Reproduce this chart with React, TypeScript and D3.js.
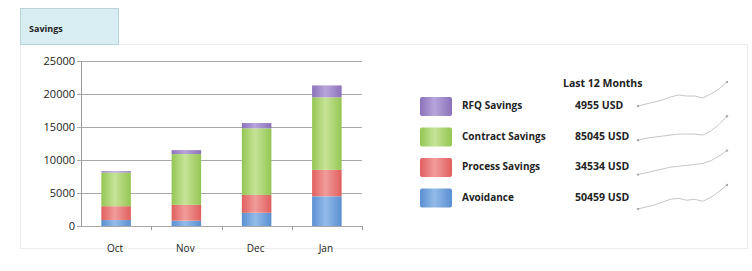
import React, { useEffect, useRef } from 'react';
import * as d3 from 'd3';

// chart data
const months = ['Oct', 'Nov', 'Dec', 'Jan'];
const avoidance = [900, 800, 2000, 4500];
const processSavings = [2100, 2400, 2700, 4000];
const contractSavings = [5100, 7700, 10100, 11000];
const rfqSavings = [200, 600, 800, 1800];
const yTicks = [0, 5000, 10000, 15000, 20000, 25000];

// legend / summary
const seriesNames = ['RFQ Savings', 'Contract Savings', 'Process Savings', 'Avoidance'];
const seriesTotals = ['4955 USD', '85045 USD', '34534 USD', '50459 USD'];
const sparkRfq = [0, 2, 4, 6, 9, 11, 10, 10, 8, 12, 17, 24];
const sparkContract = [0, 2, 3, 4, 5, 6, 6, 6, 5, 9, 15, 23];
const sparkProcess = [0, 2, 4, 6, 8, 9, 10, 11, 12, 15, 20, 26];
const sparkAvoidance = [0, 2, 4, 7, 10, 11, 9, 10, 8, 12, 18, 25];

const colors: Record<string, [string, string]> = {
  'Avoidance': ['#5a8fd2', '#93bbe9'],
  'Process Savings': ['#e0605f', '#f19c9a'],
  'Contract Savings': ['#94c653', '#c6e397'],
  'RFQ Savings': ['#8c72bb', '#b7a5da'],
};

const FONT = "'Open Sans', 'Liberation Sans', sans-serif";

const App = () => {
  const ref = useRef<SVGSVGElement>(null);
  const width = 752;
  const height = 271;

  useEffect(() => {
    const svg = d3.select(ref.current);
    svg.selectAll('*').remove();

    // gradients for the glossy excel-ish bars
    const defs = svg.append('defs');
    Object.keys(colors).forEach((k, i) => {
      const g = defs.append('linearGradient').attr('id', 'grad' + i)
        .attr('x1', '0%').attr('x2', '100%').attr('y1', '0%').attr('y2', '0%');
      g.append('stop').attr('offset', '0%').attr('stop-color', colors[k][0]);
      g.append('stop').attr('offset', '45%').attr('stop-color', colors[k][1]);
      g.append('stop').attr('offset', '100%').attr('stop-color', colors[k][0]);
    });
    const gradFor = (name: string) => 'url(#grad' + Object.keys(colors).indexOf(name) + ')';

    // panel + tab
    svg.append('rect').attr('x', 20.5).attr('y', 44.5).attr('width', 727).attr('height', 204)
      .attr('fill', '#fff').attr('stroke', '#ececec');
    svg.append('rect').attr('x', 20.5).attr('y', 8.5).attr('width', 98).attr('height', 36)
      .attr('fill', '#d7edf2').attr('stroke', '#b9d3da');
    svg.append('text').attr('x', 29).attr('y', 32).text('Savings')
      .attr('font-family', FONT).attr('font-size', 9).attr('font-weight', 700).attr('fill', '#222');

    // scales
    const margin = { top: 61, left: 81, right: 362, bottom: 226 };
    const x = d3.scaleBand().domain(months).range([margin.left, margin.right]).padding(0);
    const y = d3.scaleLinear().domain([0, 25000]).range([margin.bottom, margin.top]);

    const g = svg.append('g');

    // gridlines
    g.selectAll('.grid').data(yTicks).enter().append('line')
      .attr('x1', margin.left - 4).attr('x2', margin.right)
      .attr('y1', d => Math.round(y(d)) + 0.5).attr('y2', d => Math.round(y(d)) + 0.5)
      .attr('stroke', '#a8a8a8').attr('stroke-width', 1);

    // y axis line
    g.append('line').attr('x1', margin.left + 0.5).attr('x2', margin.left + 0.5)
      .attr('y1', margin.top).attr('y2', margin.bottom).attr('stroke', '#9a9a9a');

    // y labels
    g.selectAll('.ylab').data(yTicks).enter().append('text')
      .attr('x', 75).attr('y', d => y(d) + 4).attr('text-anchor', 'end')
      .attr('font-family', FONT).attr('font-size', 11).attr('fill', '#222')
      .text(d => d);

    // x ticks between categories
    const bounds = months.map(m => (x(m) as number) + x.bandwidth());
    g.selectAll('.xt').data(bounds).enter().append('line')
      .attr('x1', d => Math.round(d) + 0.5).attr('x2', d => Math.round(d) + 0.5)
      .attr('y1', margin.bottom).attr('y2', margin.bottom + 4).attr('stroke', '#9a9a9a');

    g.selectAll('.xlab').data(months).enter().append('text')
      .attr('x', d => (x(d) as number) + x.bandwidth() / 2 - 1).attr('y', 252)
      .attr('text-anchor', 'middle')
      .attr('font-family', FONT).attr('font-size', 10).attr('fill', '#222')
      .text(d => d);

    // stacked bars
    const rows = months.map((m, i) => ({
      month: m,
      'Avoidance': avoidance[i],
      'Process Savings': processSavings[i],
      'Contract Savings': contractSavings[i],
      'RFQ Savings': rfqSavings[i],
    }));
    const keys = ['Avoidance', 'Process Savings', 'Contract Savings', 'RFQ Savings'];
    const stacked = d3.stack<any>().keys(keys)(rows);
    const barW = x.bandwidth() * 0.42;

    stacked.forEach(layer => {
      g.selectAll('.bar-' + layer.index).data(layer).enter().append('rect')
        .attr('x', d => (x(d.data.month) as number) + (x.bandwidth() - barW) / 2)
        .attr('width', barW)
        .attr('y', d => y(d[1]))
        .attr('height', d => y(d[0]) - y(d[1]))
        .attr('fill', gradFor(layer.key));
    });

    // legend + summary
    const legend = svg.append('g');
    legend.append('text').attr('x', 563).attr('y', 87).text('Last 12 Months')
      .attr('font-family', FONT).attr('font-size', 10.5).attr('font-weight', 700).attr('fill', '#222');

    const sparks = [sparkRfq, sparkContract, sparkProcess, sparkAvoidance];
    const sx = d3.scaleLinear().domain([0, 11]).range([638, 727]);

    seriesNames.forEach((name, i) => {
      const cy = 106 + i * 30.5;
      legend.append('rect').attr('x', 420).attr('y', cy - 9).attr('width', 32).attr('height', 19)
        .attr('rx', 2).attr('fill', gradFor(name));
      legend.append('text').attr('x', 462).attr('y', cy + 3).text(name)
        .attr('font-family', FONT).attr('font-size', 10).attr('font-weight', 700).attr('fill', '#222');
      legend.append('text').attr('x', 575).attr('y', cy + 3)
        .text(seriesTotals[i])
        .attr('font-family', FONT).attr('font-size', 10.5).attr('font-weight', 700).attr('fill', '#222');

      // sparkline
      const base = 106 + i * 34.3;
      const vals = sparks[i];
      const sy = d3.scaleLinear().domain([d3.min(vals) as number, d3.max(vals) as number])
        .range([base, base - 24]);
      const line = d3.line<number>().x((_, j) => sx(j)).y(d => sy(d)).curve(d3.curveLinear);
      legend.append('path').attr('d', line(vals) as string)
        .attr('fill', 'none').attr('stroke', '#c6c6c6').attr('stroke-width', 1);
      [0, vals.length - 1].forEach(j => {
        legend.append('circle').attr('cx', sx(j)).attr('cy', sy(vals[j])).attr('r', 1.2)
          .attr('fill', '#aaaaaa');
      });
    });
  }, []);

  return (
    <svg ref={ref} width={width} height={height}
      style={{ position: 'absolute', left: 0, top: 0, background: '#fff' }} />
  );
};

export default App;
